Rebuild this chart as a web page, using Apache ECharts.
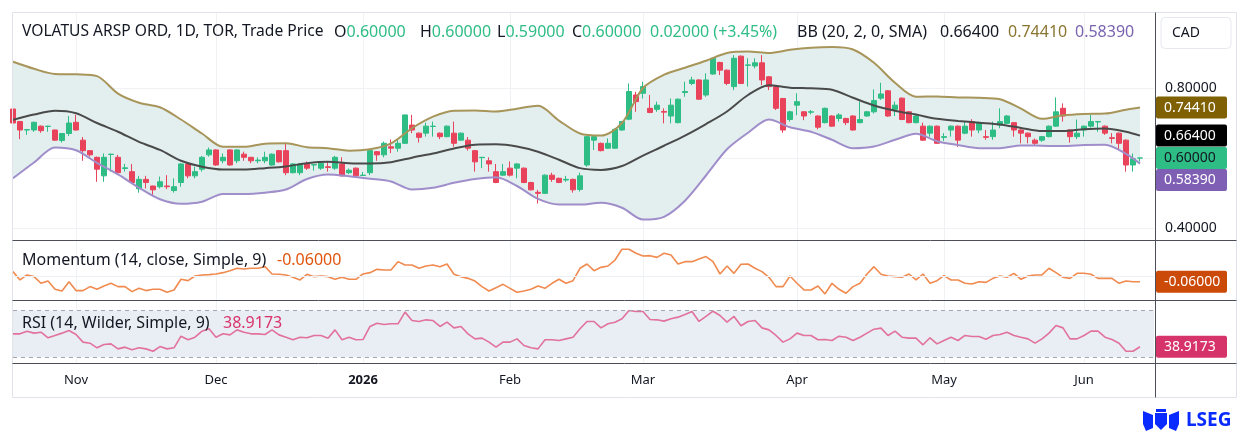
<!DOCTYPE html>
<html lang="zh">
<head>
<meta charset="utf-8">
<title>VOLATUS ARSP ORD - 1D</title>
<script src="https://cdn.jsdelivr.net/npm/echarts@6/dist/echarts.min.js"></script>
<style>
  html, body { margin: 0; padding: 0; background: #ffffff; }
  #chart { width: 1250px; height: 437px; }
</style>
</head>
<body>
<div id="chart"></div>
<script>
// ===== 数据区 =====
// 交易日：从 2025-10-21 起，跳过周末与多伦多交易所假日
const firstDay = '2025-10-21';
const tradingDays = 162;
const holidays = ['2025-12-25', '2025-12-26', '2026-01-01', '2026-02-16', '2026-04-03', '2026-05-18'];
const monthNames = ['Jan', 'Feb', 'Mar', 'Apr', 'May', 'Jun', 'Jul', 'Aug', 'Sep', 'Oct', 'Nov', 'Dec'];

// K线 [开, 收, 低, 高]
const candles = [
  [0.740,0.700,0.700,0.763],[0.704,0.680,0.654,0.706],[0.680,0.681,0.666,0.683],[0.680,0.702,0.675,0.704],
  [0.691,0.678,0.672,0.693],[0.690,0.691,0.675,0.692],[0.680,0.651,0.649,0.681],[0.650,0.670,0.644,0.671],
  [0.670,0.700,0.663,0.720],[0.702,0.680,0.678,0.723],[0.651,0.621,0.592,0.660],[0.621,0.609,0.604,0.622],
  [0.602,0.568,0.532,0.604],[0.549,0.602,0.532,0.613],[0.610,0.611,0.561,0.612],[0.602,0.558,0.556,0.609],
  [0.570,0.572,0.561,0.583],[0.561,0.530,0.526,0.583],[0.512,0.539,0.501,0.549],[0.539,0.530,0.513,0.549],
  [0.520,0.509,0.494,0.521],[0.518,0.532,0.513,0.547],[0.520,0.518,0.511,0.551],[0.507,0.518,0.501,0.542],
  [0.530,0.583,0.518,0.585],[0.583,0.549,0.542,0.585],[0.549,0.561,0.542,0.575],[0.568,0.602,0.561,0.606],
  [0.609,0.623,0.604,0.630],[0.623,0.580,0.578,0.625],[0.592,0.602,0.585,0.613],[0.623,0.580,0.578,0.625],
  [0.592,0.623,0.585,0.625],[0.611,0.602,0.592,0.618],[0.602,0.592,0.585,0.603],[0.592,0.594,0.585,0.602],
  [0.592,0.602,0.585,0.618],[0.580,0.611,0.578,0.613],[0.621,0.589,0.587,0.623],[0.621,0.558,0.551,0.642],
  [0.558,0.583,0.556,0.585],[0.558,0.583,0.551,0.585],[0.583,0.571,0.566,0.590],[0.580,0.581,0.564,0.582],
  [0.571,0.585,0.566,0.590],[0.575,0.573,0.561,0.590],[0.571,0.602,0.566,0.606],[0.583,0.549,0.547,0.602],
  [0.558,0.565,0.554,0.570],[0.571,0.549,0.547,0.573],[0.550,0.551,0.549,0.560],[0.558,0.621,0.551,0.625],
  [0.618,0.609,0.592,0.620],[0.609,0.642,0.602,0.647],[0.632,0.628,0.614,0.653],[0.628,0.642,0.618,0.653],
  [0.642,0.723,0.640,0.724],[0.694,0.680,0.671,0.723],[0.671,0.659,0.644,0.673],[0.671,0.691,0.661,0.701],
  [0.690,0.691,0.661,0.704],[0.671,0.661,0.654,0.673],[0.661,0.691,0.659,0.693],[0.671,0.642,0.632,0.704],
  [0.651,0.671,0.649,0.673],[0.651,0.628,0.621,0.660],[0.621,0.589,0.561,0.623],[0.601,0.602,0.571,0.603],
  [0.592,0.583,0.561,0.602],[0.561,0.530,0.528,0.583],[0.551,0.561,0.549,0.583],[0.571,0.551,0.547,0.590],
  [0.571,0.583,0.542,0.585],[0.571,0.530,0.528,0.573],[0.530,0.509,0.507,0.532],[0.502,0.499,0.470,0.509],
  [0.499,0.551,0.497,0.553],[0.551,0.539,0.532,0.558],[0.542,0.530,0.528,0.544],[0.537,0.539,0.532,0.549],
  [0.539,0.509,0.501,0.541],[0.510,0.549,0.504,0.558],[0.580,0.661,0.575,0.663],[0.651,0.661,0.623,0.663],
  [0.642,0.621,0.619,0.644],[0.628,0.642,0.626,0.656],[0.628,0.682,0.626,0.684],[0.680,0.704,0.678,0.706],
  [0.711,0.790,0.708,0.813],[0.780,0.761,0.732,0.789],[0.785,0.804,0.770,0.818],[0.742,0.730,0.728,0.780],
  [0.739,0.751,0.732,0.761],[0.733,0.731,0.699,0.742],[0.720,0.751,0.699,0.770],[0.701,0.768,0.699,0.770],
  [0.787,0.790,0.775,0.818],[0.813,0.823,0.808,0.832],[0.823,0.768,0.766,0.825],[0.780,0.823,0.775,0.842],
  [0.840,0.885,0.838,0.887],[0.873,0.851,0.837,0.875],[0.851,0.813,0.808,0.853],[0.804,0.885,0.794,0.894],
  [0.891,0.813,0.811,0.893],[0.865,0.866,0.804,0.885],[0.863,0.872,0.856,0.885],[0.872,0.823,0.808,0.894],
  [0.832,0.804,0.794,0.834],[0.804,0.742,0.737,0.808],[0.770,0.680,0.672,0.772],[0.710,0.732,0.704,0.735],
  [0.751,0.761,0.722,0.785],[0.732,0.720,0.708,0.734],[0.731,0.732,0.725,0.737],[0.720,0.688,0.682,0.722],
  [0.701,0.742,0.699,0.744],[0.720,0.691,0.689,0.722],[0.713,0.723,0.704,0.728],[0.713,0.701,0.694,0.715],
  [0.720,0.680,0.678,0.722],[0.701,0.710,0.699,0.761],[0.720,0.732,0.718,0.734],[0.732,0.764,0.727,0.796],
  [0.771,0.783,0.766,0.815],[0.792,0.720,0.718,0.794],[0.739,0.751,0.720,0.761],[0.771,0.710,0.708,0.773],
  [0.732,0.701,0.699,0.734],[0.701,0.720,0.699,0.722],[0.691,0.651,0.649,0.701],[0.671,0.691,0.661,0.693],
  [0.691,0.642,0.640,0.693],[0.659,0.661,0.649,0.671],[0.680,0.691,0.661,0.693],[0.691,0.651,0.632,0.693],
  [0.671,0.691,0.668,0.704],[0.704,0.680,0.661,0.711],[0.680,0.701,0.671,0.704],[0.661,0.659,0.652,0.680],
  [0.661,0.680,0.652,0.704],[0.694,0.704,0.685,0.742],[0.699,0.720,0.697,0.723],[0.701,0.680,0.661,0.703],
  [0.680,0.671,0.642,0.682],[0.671,0.661,0.642,0.673],[0.651,0.642,0.637,0.656],[0.651,0.661,0.646,0.663],
  [0.661,0.691,0.659,0.693],[0.691,0.732,0.689,0.773],[0.742,0.720,0.704,0.756],[0.680,0.661,0.644,0.682],
  [0.661,0.671,0.654,0.710],[0.680,0.691,0.661,0.693],[0.691,0.704,0.687,0.723],[0.703,0.704,0.675,0.706],
  [0.691,0.671,0.666,0.693],[0.658,0.656,0.642,0.671],[0.671,0.642,0.625,0.673],[0.651,0.580,0.561,0.653],
  [0.580,0.598,0.561,0.613],[0.600,0.600,0.590,0.600]
];

// 布林带 (20, 2) —— 读取点所在的K线序号
const bbIndex = [0,3,6,9,12,15,18,21,24,27,30,33,36,39,42,45,48,51,54,57,60,63,66,69,72,75,78,81,84,87,
  90,93,96,99,102,105,108,111,114,117,120,123,126,129,132,135,138,141,144,147,150,153,156,159,161];
const bbUpper = [0.875,0.855,0.840,0.839,0.834,0.784,0.758,0.745,0.710,0.670,0.632,0.632,0.641,0.642,0.631,
  0.628,0.621,0.625,0.642,0.685,0.718,0.735,0.736,0.733,0.741,0.749,0.707,0.670,0.664,0.700,
  0.800,0.838,0.858,0.878,0.900,0.904,0.900,0.909,0.915,0.917,0.910,0.872,0.815,0.775,0.776,
  0.773,0.772,0.768,0.741,0.712,0.722,0.726,0.727,0.738,0.7441];
const bbMiddle = [0.709,0.724,0.735,0.728,0.700,0.675,0.646,0.623,0.592,0.575,0.567,0.567,0.571,0.576,0.585,
  0.589,0.585,0.584,0.588,0.601,0.613,0.627,0.638,0.639,0.633,0.618,0.595,0.571,0.566,0.577,
  0.607,0.635,0.664,0.697,0.733,0.780,0.808,0.801,0.799,0.795,0.772,0.750,0.735,0.724,0.712,
  0.706,0.701,0.696,0.686,0.677,0.677,0.682,0.684,0.675,0.664];
const bbLower = [0.542,0.587,0.630,0.622,0.586,0.553,0.515,0.482,0.469,0.475,0.497,0.497,0.501,0.510,0.540,
  0.553,0.548,0.541,0.533,0.510,0.515,0.529,0.540,0.545,0.520,0.483,0.467,0.467,0.472,0.458,
  0.424,0.432,0.478,0.550,0.625,0.672,0.710,0.688,0.675,0.652,0.628,0.633,0.652,0.669,0.648,
  0.637,0.628,0.628,0.636,0.635,0.634,0.637,0.638,0.612,0.5839];

// 动量 (14, close)
const momentum = [
  0.046,-0.042,0.011,-0.007,-0.077,-0.053,-0.140,-0.158,-0.060,-0.154,
  -0.154,-0.112,-0.140,-0.105,-0.077,-0.112,-0.112,-0.165,-0.130,-0.154,
  -0.140,-0.140,-0.172,-0.147,-0.035,-0.049,0.000,0.011,0.014,0.021,
  0.035,0.056,0.081,0.074,0.081,0.081,0.098,0.021,0.018,0.011,
  -0.014,-0.042,0.018,-0.007,0.000,-0.007,-0.035,-0.014,-0.035,-0.035,
  0.021,0.035,0.070,0.063,0.063,0.151,0.116,0.116,0.081,0.105,
  0.116,0.098,0.126,0.018,-0.007,-0.025,-0.053,-0.112,-0.158,-0.123,
  -0.088,-0.130,-0.172,-0.158,-0.140,-0.105,-0.130,-0.077,-0.035,
  -0.077,-0.049,0.081,0.126,0.056,0.091,0.105,0.168,0.281,0.281,
  0.239,0.211,0.214,0.196,0.239,0.221,0.126,0.151,0.151,0.179,
  0.204,0.151,0.021,0.105,0.028,0.123,0.126,0.081,0.046,-0.014,
  -0.112,-0.112,0.000,-0.077,-0.147,-0.147,-0.105,-0.189,-0.077,-0.140,
  -0.182,-0.112,-0.077,0.021,0.098,0.018,0.000,-0.007,-0.014,0.021,
  -0.042,0.021,-0.077,-0.049,0.004,-0.042,-0.042,-0.077,-0.084,-0.060,
  -0.067,-0.025,0.000,-0.014,0.028,-0.035,0.000,0.011,0.011,0.081,
  0.035,-0.014,-0.025,0.028,0.028,0.018,-0.025,-0.025,-0.025,-0.077,
  -0.053,-0.060,-0.060
];

// RSI (14, Wilder)
const rsi = [
  50,50,52.3,50.6,51.4,46.6,48.6,50.6,52.9,49.4,
  42.9,42,38,40.9,41.4,37.1,38.6,36.3,38,37.1,
  35.1,39.1,37.1,38,48,44.9,47.1,52.3,54.3,47.1,
  50,49.1,53.4,51.4,50,50,49.4,53.4,49.1,47.1,
  44.9,47.1,46.6,48.6,48.6,46.3,53.4,44.9,47.1,44.9,
  45.1,56.3,59.1,58,58.6,58.6,68.6,61.4,60.6,62,
  61.4,56.3,60,55.1,56.3,50,45.7,46.3,42.9,38.6,
  42.9,42.9,45.7,40,38,37.1,44.9,44.9,44.3,45.7,
  47.1,54.3,60.6,60.6,55.1,58.6,60,62.9,70,69.1,
  69.1,62.3,62,60.9,62.9,64.3,66.6,69.1,60.6,64.9,
  69.4,65.7,60,64.9,56.9,60.6,61.4,55.1,53.4,48.6,
  42.9,45.7,50.6,48.6,48.6,44.9,45.1,44.3,48,47.1,
  44.3,47.1,50.6,54,54.9,48.6,52.3,47.1,46.3,46.3,
  40.6,46.6,41.4,44.3,47.1,44.3,48.6,47.7,47.7,45.4,
  48.6,49.4,51.4,48.6,47.1,45.7,42,45.7,50.6,57.1,
  55.1,45.7,45.7,48.6,52.3,52.3,47.1,45.1,42,35.1,
  35.1,38.9173
];

// 标题栏文字：[前缀, 数值, x, 数值颜色]
const DARK = '#131722';
const UP = '#2ebd85';
const DOWN = '#e9435b';
const headerParts = [
  ['VOLATUS ARSP ORD, 1D, TOR, Trade Price', '', 22, DARK],
  ['O', '0.60000', 334, UP],
  ['H', '0.60000', 420, UP],
  ['L', '0.59000', 497, UP],
  ['C', '0.60000', 572, UP],
  ['', '0.02000 (+3.45%)', 650, UP],
  ['BB (20, 2, 0, SMA)', '', 797, DARK],
  ['', '0.66400', 940, DARK],
  ['', '0.74410', 1008, '#8a7530'],
  ['', '0.58390', 1075, '#7a64b0']
];

// ===== 绘图 =====
const FONT = '"Noto Sans", "DejaVu Sans", sans-serif';
const C_UPPER = '#a8955a', C_MID = '#4a4a4a', C_LOWER = '#a08ecb', C_FILL = '#e3efef';
const C_MOM = '#f08a4f', C_RSI = '#e2719b';

document.addEventListener('DOMContentLoaded', function () {
  initChart();
});

function buildDates() {
  const out = [];
  const d = new Date(firstDay + 'T00:00:00Z');
  while (out.length < tradingDays) {
    const s = d.toISOString().slice(0, 10);
    const wd = d.getUTCDay();
    if (wd !== 0 && wd !== 6 && holidays.indexOf(s) < 0) out.push(s);
    d.setUTCDate(d.getUTCDate() + 1);
  }
  return out;
}

function initChart() {
  const dates = buildDates();
  const xData = dates.concat(['', '']);
  const chart = echarts.init(document.getElementById('chart'));

  // 月初第一天才显示标签和竖网格
  function isMonthStart(i) {
    if (i <= 0 || i >= dates.length) return false;
    return dates[i].slice(5, 7) !== dates[i - 1].slice(5, 7);
  }
  function monthLabel(v) {
    if (!v) return '';
    const m = +v.slice(5, 7);
    return m === 1 ? '{y|' + v.slice(0, 4) + '}' : monthNames[m - 1];
  }

  const L = 13, W = 1141;
  const hiddenX = function (g) {
    return { type: 'category', gridIndex: g, data: xData, boundaryGap: false, show: false };
  };
  const knots = function (arr) { return bbIndex.map((x, i) => [x, arr[i]]); };

  const option = {
    animation: false,
    textStyle: { fontFamily: FONT },
    grid: [
      { left: L, width: W, top: 13, height: 350 },
      { left: L, width: W, top: 18, height: 210 },
      { left: L, width: W, top: 240, height: 60 },
      { left: L, width: W, top: 300, height: 63 }
    ],
    xAxis: [
      {
        type: 'category', gridIndex: 0, data: xData, boundaryGap: false,
        axisLine: { show: false },
        axisTick: { show: false, interval: isMonthStart },
        splitLine: { show: true, interval: isMonthStart, lineStyle: { color: '#eff1f5' } },
        axisLabel: {
          interval: isMonthStart, formatter: monthLabel, color: DARK, fontSize: 13, margin: 11,
          fontFamily: FONT, rich: { y: { fontWeight: 'bold', fontSize: 13, color: DARK, fontFamily: FONT } }
        }
      },
      hiddenX(1), hiddenX(2), hiddenX(3)
    ],
    yAxis: [
      { gridIndex: 0, type: 'value', min: 0, max: 1, show: false },
      {
        gridIndex: 1, type: 'value', position: 'right', min: 0.4, max: 1.0, interval: 0.2,
        axisLine: { show: false }, axisTick: { show: false },
        axisLabel: { formatter: v => v.toFixed(5), color: DARK, fontSize: 14, margin: 11, showMaxLabel: false, fontFamily: FONT },
        splitLine: { lineStyle: { color: '#eff1f5' }, showMaxLine: false }
      },
      { gridIndex: 2, type: 'value', min: -0.253, max: 0.379, show: false },
      { gridIndex: 3, type: 'value', min: 25, max: 79, show: false }
    ],
    series: [
      {
        name: 'bbLowerBase', type: 'line', xAxisIndex: 1, yAxisIndex: 1, stack: 'bb',
        data: knots(bbLower), smooth: 0.3, symbol: 'none', silent: true,
        lineStyle: { width: 0, opacity: 0 }, z: 1
      },
      {
        name: 'bbFill', type: 'line', xAxisIndex: 1, yAxisIndex: 1, stack: 'bb',
        data: bbIndex.map((x, i) => [x, bbUpper[i] - bbLower[i]]), smooth: 0.3, symbol: 'none', silent: true,
        lineStyle: { width: 0, opacity: 0 }, areaStyle: { color: C_FILL, opacity: 1 }, z: 1
      },
      {
        name: 'K', type: 'candlestick', xAxisIndex: 1, yAxisIndex: 1, data: candles, barWidth: 5,
        itemStyle: { color: UP, color0: DOWN, borderColor: UP, borderColor0: DOWN, borderWidth: 1 }, z: 3
      },
      {
        name: 'bbUpper', type: 'line', xAxisIndex: 1, yAxisIndex: 1, data: knots(bbUpper),
        smooth: 0.3, symbol: 'none', lineStyle: { color: C_UPPER, width: 2 }, z: 4
      },
      {
        name: 'bbMiddle', type: 'line', xAxisIndex: 1, yAxisIndex: 1, data: knots(bbMiddle),
        smooth: 0.3, symbol: 'none', lineStyle: { color: C_MID, width: 2 }, z: 4
      },
      {
        name: 'bbLower', type: 'line', xAxisIndex: 1, yAxisIndex: 1, data: knots(bbLower),
        smooth: 0.3, symbol: 'none', lineStyle: { color: C_LOWER, width: 2 }, z: 4
      },
      {
        name: 'Momentum', type: 'line', xAxisIndex: 2, yAxisIndex: 2, data: momentum,
        symbol: 'none', lineStyle: { color: C_MOM, width: 1.6 }, z: 3,
        markLine: {
          silent: true, symbol: 'none', label: { show: false },
          lineStyle: { color: '#eceff4', type: 'solid', width: 1 }, data: [{ yAxis: 0 }]
        }
      },
      {
        name: 'RSI', type: 'line', xAxisIndex: 3, yAxisIndex: 3, data: rsi,
        symbol: 'none', lineStyle: { color: C_RSI, width: 1.6 }, z: 3,
        markArea: { silent: true, itemStyle: { color: '#e8eef4' }, data: [[{ yAxis: 30 }, { yAxis: 70 }]] },
        markLine: {
          silent: true, symbol: 'none', label: { show: false },
          lineStyle: { color: '#a3a6af', type: [4, 4], width: 1 }, data: [{ yAxis: 70 }, { yAxis: 30 }]
        }
      }
    ]
  };
  chart.setOption(option);

  // ===== 边框、标题、右侧标签 =====
  const g = [];
  const line = (x1, y1, x2, y2, c) => g.push({ type: 'line', silent: true, z: 10, shape: { x1, y1, x2, y2 }, style: { stroke: c, lineWidth: 1 } });
  const text = (t, x, y, c, size, extra) => g.push({
    type: 'text', silent: true, z: 12, x: x, y: y,
    style: Object.assign({ text: t, fill: c, fontSize: size, fontFamily: FONT, verticalAlign: 'middle', align: 'left' }, extra || {})
  });

  g.push({ type: 'rect', silent: true, z: 9, shape: { x: 12.5, y: 12.5, width: 1224, height: 385 }, style: { fill: 'none', stroke: '#e0e3eb', lineWidth: 1 } });
  line(12.5, 240.5, 1236.5, 240.5, '#4c4f59');
  line(12.5, 300.5, 1236.5, 300.5, '#4c4f59');
  line(12.5, 363.5, 1236.5, 363.5, '#4c4f59');
  line(1155.5, 12.5, 1155.5, 397.5, '#4c4f59');

  // 标题：前缀深色，数值带颜色，用富文本连在一起
  headerParts.forEach((p, i) => {
    const size = i === 0 ? 15.6 : 16;
    const t = (p[0] ? '{d|' + p[0] + '}' : '') + (p[1] ? '{v|' + p[1] + '}' : '');
    text(t, p[2], 32, DARK, size, {
      rich: {
        d: { fill: DARK, fontSize: size, fontFamily: FONT },
        v: { fill: p[3], fontSize: size, fontFamily: FONT }
      }
    });
  });
  text('Momentum (14, close, Simple, 9)', 22, 260, DARK, 16);
  text('-0.06000', 277, 260, '#e0540c', 16);
  text('RSI (14, Wilder, Simple, 9)', 22, 323, DARK, 16);
  text('38.9173', 223, 323, '#d9336b', 16);

  // CAD 框
  g.push({ type: 'rect', silent: true, z: 11, shape: { x: 1161, y: 17.5, width: 70, height: 31, r: 4 }, style: { fill: '#fff', stroke: '#e6e8ee', lineWidth: 1 } });
  text('CAD', 1172, 33, DARK, 14);

  // 价格标签：避免重叠，依次向下推
  const last = bbIndex.length - 1;
  const tags = [
    { v: bbUpper[last], bg: '#7f6104', fg: '#ffffff' },
    { v: bbMiddle[last], bg: '#000000', fg: '#ffffff' },
    { v: candles[candles.length - 1][1], bg: UP, fg: DARK },
    { v: bbLower[last], bg: '#7e5fb4', fg: '#ffffff' }
  ].map(t => Object.assign(t, { y: chart.convertToPixel({ yAxisIndex: 1 }, t.v) }));
  tags.sort((a, b) => a.y - b.y);
  for (let i = 1; i < tags.length; i++) {
    if (tags[i].y < tags[i - 1].y + 22) tags[i].y = tags[i - 1].y + 22;
  }
  const tag = (label, y, bg, fg) => {
    g.push({ type: 'rect', silent: true, z: 13, shape: { x: 1156, y: y - 11, width: 71, height: 22, r: 2 }, style: { fill: bg } });
    g.push({ type: 'text', silent: true, z: 14, x: 1164, y: y, style: { text: label, fill: fg, fontSize: 14, fontFamily: FONT, verticalAlign: 'middle' } });
  };
  tags.forEach(t => tag(t.v.toFixed(5), t.y, t.bg, t.fg));
  tag(momentum[momentum.length - 1].toFixed(5), chart.convertToPixel({ yAxisIndex: 2 }, momentum[momentum.length - 1]), '#cc4a08', '#ffffff');
  tag(rsi[rsi.length - 1].toFixed(4), chart.convertToPixel({ yAxisIndex: 3 }, rsi[rsi.length - 1]), '#d6336b', '#ffffff');

  // LSEG 标志
  const BLUE = '#0a2bff';
  g.push({ type: 'polygon', silent: true, shape: { points: [[1155, 413], [1167, 413], [1167, 424], [1161, 430], [1155, 424]] }, style: { fill: BLUE } });
  g.push({ type: 'polygon', silent: true, shape: { points: [[1143, 411], [1153, 415], [1153, 428], [1146, 431], [1143, 424]] }, style: { fill: BLUE } });
  g.push({ type: 'polygon', silent: true, shape: { points: [[1179, 411], [1169, 415], [1169, 428], [1176, 431], [1179, 424]] }, style: { fill: BLUE } });
  g.push({ type: 'rect', silent: true, shape: { x: 1156, y: 409, width: 10, height: 3 }, style: { fill: BLUE } });
  text('LSEG', 1186, 421, BLUE, 19, { fontWeight: 'bold' });

  chart.setOption({ graphic: g });

  window.addEventListener('resize', function () { chart.resize(); });
}
</script>
</body>
</html>
